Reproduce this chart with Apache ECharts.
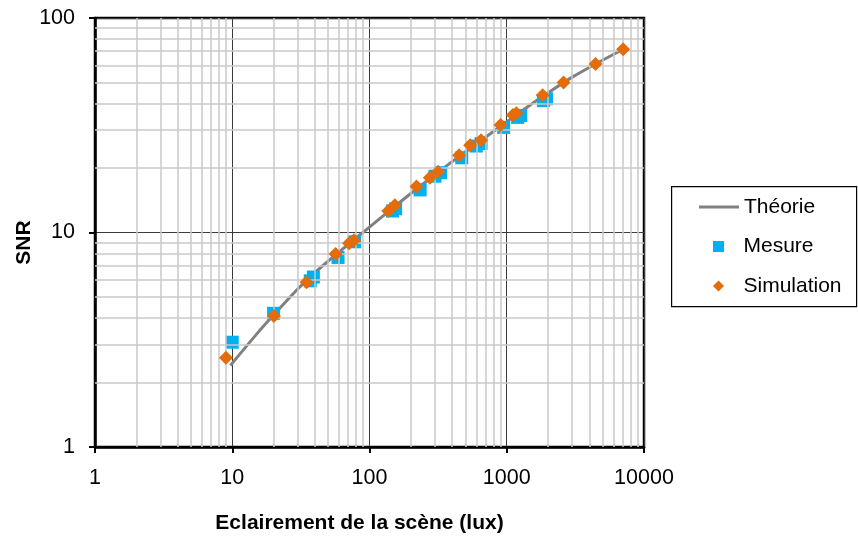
<!DOCTYPE html>
<html><head><meta charset="utf-8">
<script src="https://cdn.jsdelivr.net/npm/echarts@6/dist/echarts.min.js"></script>
<style>html,body{margin:0;padding:0;background:#fff}#c{width:858px;height:536px}</style>
</head><body><div id="c"></div>
<script>
// ---- data ----
const xTickLabels = ['1', '10', '100', '1000', '10000'];
const yTickLabels = ['1', '10', '100'];
const seriesNames = ['Théorie', 'Mesure', 'Simulation'];

const theoryX = [9.7, 15, 20, 30, 40, 50, 70, 100, 150, 200, 300, 500, 700, 1000, 1500, 2000, 3000, 4434, 7045];
const theoryY = [2.4, 3.35, 4.12, 5.45, 6.5, 7.35, 8.8, 10.6, 13.1, 15.2, 18.6, 23.8, 27.8, 32.8, 39.5, 44.8, 53, 61, 71.5];

const mesureX = [10, 20, 37, 39, 59, 78, 147, 155, 234, 300, 330, 470, 600, 650, 950, 1200, 1265, 1850, 1950];
const mesureY = [3.08, 4.2, 5.95, 6.2, 7.65, 9.05, 12.6, 12.9, 15.8, 18.3, 19.0, 22.3, 25.3, 26.0, 30.9, 34.4, 35.1, 41.2, 42.0];

const simX = [9.0, 20.1, 34.8, 56.6, 71, 77, 137, 153, 220, 275, 316, 450, 541, 649, 901, 1109, 1175, 1825, 2594, 4434, 7045];
const simY = [2.61, 4.08, 5.86, 7.94, 8.9, 9.2, 12.6, 13.4, 16.4, 18.0, 19.2, 22.9, 25.5, 26.9, 31.7, 35.3, 36.0, 43.6, 50.0, 61.0, 71.5];

// ---- minor grid values (2..9 per decade) ----
function minors(decades) {
  const out = [];
  for (let k = 0; k < decades; k++) for (let m = 2; m <= 9; m++) out.push(m * Math.pow(10, k));
  return out;
}
const xMinor = minors(4);
const yMinor = minors(2);

const FONT = '"Liberation Sans", Arial, sans-serif';
const zip = (a, b) => a.map((v, i) => [v, b[i]]);

const chart = echarts.init(document.getElementById('c'), null, {renderer: 'canvas'});
const minorLines = xMinor.map(v => ({xAxis: v})).concat(yMinor.map(v => ({yAxis: v})));

const legendBase = {
  orient: 'vertical', itemWidth: 40, itemGap: 0,
  textStyle: {fontFamily: FONT, fontSize: 21, color: '#000', lineHeight: 22},
  selectedMode: false, padding: 0, symbolKeepAspect: true
};

chart.setOption({
  animation: false,
  backgroundColor: '#fff',
  grid: {left: 95, right: 214, top: 18, bottom: 89, show: true, borderColor: '#000', borderWidth: 2.5,
    backgroundColor: 'transparent', containLabel: false, outerBoundsMode: 'none'},
  xAxis: {
    type: 'log', logBase: 10, min: 1, max: 10000, splitNumber: 4,
    name: 'Eclairement de la scène (lux)', nameLocation: 'middle', nameGap: 66, nameMoveOverlap: false,
    nameTextStyle: {fontFamily: FONT, fontSize: 21, fontWeight: 'bold', color: '#000', padding: [0, 20, 0, 0]},
    axisLine: {lineStyle: {color: '#000', width: 2.5}},
    axisTick: {show: true, inside: false, length: 6, lineStyle: {color: '#000', width: 2}},
    axisLabel: {margin: 20, fontFamily: FONT, fontSize: 21.5, color: '#000',
      formatter: v => xTickLabels[Math.round(Math.log10(v))]},
    splitLine: {show: true, lineStyle: {color: '#3a3a3a', width: 1}},
    minorTick: {show: false}
  },
  yAxis: {
    type: 'log', logBase: 10, min: 1, max: 100, splitNumber: 2,
    name: 'SNR', nameLocation: 'middle', nameGap: 60, nameMoveOverlap: false,
    nameTextStyle: {fontFamily: FONT, fontSize: 21, fontWeight: 'bold', color: '#000', padding: [0, 20, 0, 0]},
    axisLine: {lineStyle: {color: '#000', width: 2.5}},
    axisTick: {show: true, inside: false, length: 6, lineStyle: {color: '#000', width: 2}},
    axisLabel: {margin: 20, fontFamily: FONT, fontSize: 21.5, color: '#000',
      formatter: v => yTickLabels[Math.round(Math.log10(v))]},
    splitLine: {show: true, lineStyle: {color: '#3a3a3a', width: 1}}
  },
  graphic: [{
    type: 'rect', left: 671, top: 186, z: 0,
    shape: {width: 185, height: 120},
    style: {fill: '#fff', stroke: '#000', lineWidth: 1.2}
  }],
  legend: [
    Object.assign({}, legendBase, {left: 699, top: 196, itemHeight: 3,
      data: [{name: seriesNames[0], icon: 'rect', itemStyle: {color: '#808080'}}]}),
    Object.assign({}, legendBase, {left: 713, top: 235.5, itemHeight: 11,
      data: [{name: seriesNames[1], icon: 'path://M0,0L10,0L10,10L0,10Z', itemStyle: {color: '#00B0F0'}}]}),
    Object.assign({}, legendBase, {left: 713, top: 275, itemHeight: 11,
      data: [{name: seriesNames[2], icon: 'path://M5,0L10,5L5,10L0,5Z', itemStyle: {color: '#E46C0A'}}]})
  ],
  series: [
    {
      name: 'minor', type: 'line', data: [], z: 1, silent: true,
      markLine: {silent: true, symbol: 'none', animation: false, label: {show: false},
        lineStyle: {color: '#c8c8c8', width: 1.5, type: 'solid'}, emphasis: {disabled: true},
        data: minorLines}
    },
    {
      name: seriesNames[0], type: 'line', data: zip(theoryX, theoryY), z: 3,
      symbol: 'none', smooth: 0.3, lineStyle: {color: '#808080', width: 3}, itemStyle: {color: '#808080'}
    },
    {
      name: seriesNames[1], type: 'scatter', data: zip(mesureX, mesureY), z: 4,
      symbol: 'rect', symbolSize: 13, itemStyle: {color: '#00B0F0', opacity: 1}
    },
    {
      name: seriesNames[2], type: 'scatter', data: zip(simX, simY), z: 5,
      symbol: 'diamond', symbolSize: [14, 14], itemStyle: {color: '#E46C0A', opacity: 1}
    }
  ]
});
</script>
</body></html>
